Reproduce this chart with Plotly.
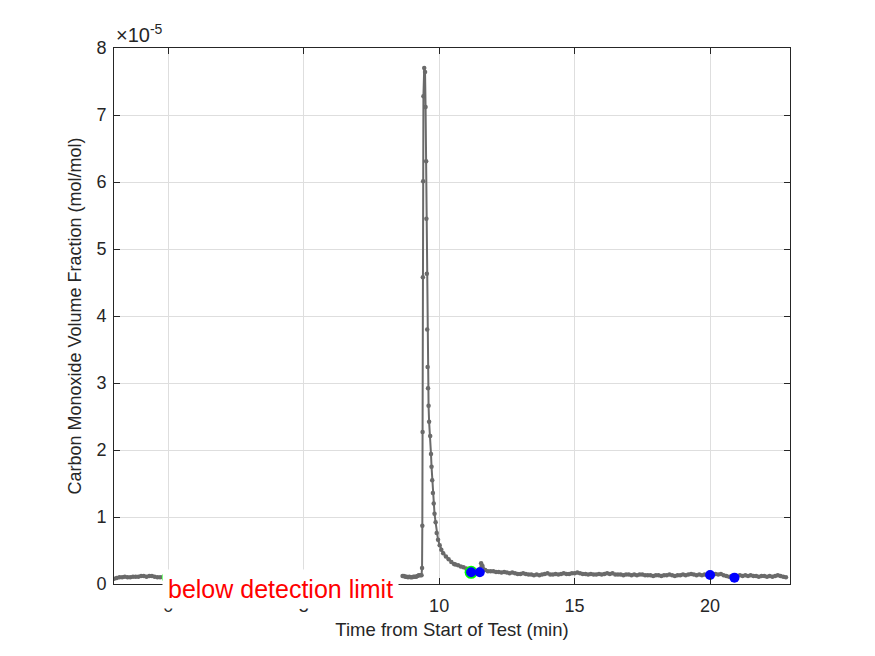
import plotly.graph_objects as go

# ---- data (CO volume fraction in units of 1e-5 mol/mol) ----
t_pre = [-2.0, -1.9, -1.8, -1.7, -1.6, -1.5, -1.4, -1.3, -1.2, -1.1, -1.0,
         -0.9, -0.8, -0.7, -0.6, -0.5, -0.4, -0.3, -0.2, -0.1, 0.0]
co_pre = [0.08, 0.09, 0.10, 0.10, 0.11, 0.10, 0.10, 0.11, 0.11, 0.11, 0.12,
          0.12, 0.11, 0.12, 0.12, 0.11, 0.10, 0.10, 0.10, 0.10, 0.10]

t_main = [8.65, 8.70, 8.75, 8.80, 8.85, 8.90, 8.95, 9.00, 9.05, 9.10, 9.15, 9.20, 9.25, 9.30, 9.35,
          9.37, 9.38, 9.39, 9.40, 9.41, 9.42, 9.45, 9.48, 9.50, 9.52, 9.53, 9.545, 9.56, 9.575,
          9.59, 9.61, 9.63, 9.67, 9.70, 9.72, 9.745, 9.77, 9.80, 9.83, 9.87, 9.91, 9.96,
          10.02, 10.08, 10.15, 10.25, 10.35, 10.45, 10.55,
          10.6, 10.7, 10.8, 10.9, 11.0, 11.1, 11.2, 11.3, 11.4, 11.5, 11.55, 11.6, 11.7, 11.8, 11.9,
          12.0, 12.1, 12.2, 12.3, 12.4, 12.5, 12.6, 12.7, 12.8, 12.9,
          13.0, 13.1, 13.2, 13.3, 13.4, 13.5, 13.6, 13.7, 13.8, 13.9,
          14.0, 14.1, 14.2, 14.3, 14.4, 14.5, 14.6, 14.7, 14.8, 14.9,
          15.0, 15.1, 15.2, 15.3, 15.4, 15.5, 15.6, 15.7, 15.8, 15.9,
          16.0, 16.1, 16.2, 16.3, 16.4, 16.5, 16.6, 16.7, 16.8, 16.9,
          17.0, 17.1, 17.2, 17.3, 17.4, 17.5, 17.6, 17.7, 17.8, 17.9,
          18.0, 18.1, 18.2, 18.3, 18.4, 18.5, 18.6, 18.7, 18.8, 18.9,
          19.0, 19.1, 19.2, 19.3, 19.4, 19.5, 19.6, 19.7, 19.8, 19.9,
          20.0, 20.1, 20.2, 20.3, 20.4, 20.5, 20.6, 20.7, 20.8, 20.9,
          21.0, 21.1, 21.2, 21.3, 21.4, 21.5, 21.6, 21.7, 21.8, 21.9,
          22.0, 22.1, 22.2, 22.3, 22.4, 22.5, 22.6, 22.7, 22.8]
co_main = [0.12, 0.12, 0.11, 0.11, 0.10, 0.11, 0.10, 0.10, 0.11, 0.11, 0.11, 0.12, 0.13, 0.13, 0.13,
           0.24, 0.87, 2.27, 4.58, 6.01, 7.28, 7.70, 7.64, 7.12, 6.31, 5.45, 4.63, 3.80, 3.24,
           2.92, 2.66, 2.42, 2.21, 1.94, 1.75, 1.55, 1.36, 1.20, 1.05, 0.92, 0.76, 0.66,
           0.58, 0.51, 0.46, 0.41, 0.37, 0.33, 0.30,
           0.29, 0.28, 0.26, 0.25, 0.23, 0.20, 0.18, 0.17, 0.18, 0.22, 0.31, 0.27, 0.21, 0.19, 0.19,
           0.19, 0.18, 0.18, 0.17, 0.18, 0.17, 0.16, 0.17, 0.16, 0.15,
           0.15, 0.16, 0.15, 0.14, 0.14, 0.13, 0.14, 0.13, 0.14, 0.15,
           0.16, 0.14, 0.14, 0.15, 0.14, 0.15, 0.16, 0.15, 0.15, 0.16,
           0.16, 0.17, 0.16, 0.15, 0.15, 0.14, 0.15, 0.14, 0.14, 0.15,
           0.14, 0.15, 0.16, 0.15, 0.16, 0.14, 0.14, 0.14, 0.13, 0.14,
           0.14, 0.13, 0.14, 0.13, 0.14, 0.14, 0.13, 0.13, 0.13, 0.12,
           0.13, 0.13, 0.12, 0.13, 0.13, 0.14, 0.13, 0.12, 0.13, 0.13,
           0.14, 0.13, 0.14, 0.15, 0.14, 0.13, 0.14, 0.13, 0.14, 0.13,
           0.13, 0.14, 0.15, 0.14, 0.15, 0.13, 0.12, 0.11, 0.12, 0.11,
           0.12, 0.13, 0.12, 0.13, 0.12, 0.13, 0.12, 0.12, 0.11, 0.12,
           0.12, 0.11, 0.12, 0.11, 0.12, 0.13, 0.12, 0.11, 0.10]

green_t = [0.0, 11.18]
green_co = [0.10, 0.175]
blue_t = [11.18, 11.5, 20.0, 20.9]
blue_co = [0.175, 0.175, 0.135, 0.095]

x_ticks = [0, 5, 10, 15, 20]
y_ticks = [0, 1, 2, 3, 4, 5, 6, 7, 8]
y_ticktext = ["0", "1", "2", "3", "4", "5", "6", "7", "8"]

GRAY = "#6a6a6a"
AX = "#262626"
FONT = "Liberation Sans, Arial, sans-serif"

fig = go.Figure()
fig.add_trace(go.Scatter(
    x=t_pre + [None] + t_main, y=co_pre + [None] + co_main,
    mode="lines+markers", connectgaps=False,
    line=dict(color=GRAY, width=2),
    marker=dict(color=GRAY, size=4.5),
    cliponaxis=True, showlegend=False, hoverinfo="x+y"))
fig.add_trace(go.Scatter(
    x=green_t, y=green_co, mode="markers",
    marker=dict(color="#00ff00", size=13), showlegend=False))
fig.add_trace(go.Scatter(
    x=blue_t, y=blue_co, mode="markers",
    marker=dict(color="#0000ff", size=10), showlegend=False))

fig.update_layout(
    width=875, height=656,
    margin=dict(l=114, r=85, t=48, b=72),
    paper_bgcolor="white", plot_bgcolor="white",
    font=dict(family=FONT, color=AX, size=18),
    xaxis=dict(
        range=[-2, 22.95], tickvals=x_ticks,
        showgrid=True, gridcolor="#dedede", gridwidth=1, zeroline=False,
        showline=True, linecolor=AX, linewidth=1, mirror="ticks",
        ticks="inside", ticklen=6, tickcolor=AX, ticklabelstandoff=5,
        tickfont=dict(size=18, color=AX),
        title=dict(text="Time from Start of Test (min)", font=dict(size=18.5, color=AX), standoff=8),
    ),
    yaxis=dict(
        range=[0, 8], tickvals=y_ticks, ticktext=y_ticktext,
        showgrid=True, gridcolor="#dedede", gridwidth=1, zeroline=False,
        showline=True, linecolor=AX, linewidth=1, mirror="ticks",
        ticks="inside", ticklen=6, tickcolor=AX, ticklabelstandoff=3,
        tickfont=dict(size=18, color=AX),
        title=dict(text="Carbon Monoxide Volume Fraction (mol/mol)", font=dict(size=18, color=AX), standoff=10),
    ),
    annotations=[
        dict(text="×10<sup>-5</sup>", xref="paper", yref="paper", x=0, y=1,
             xanchor="left", yanchor="bottom", showarrow=False,
             font=dict(size=20, color=AX, family=FONT)),
        dict(text="below detection limit", xref="x", yref="paper", x=-0.22, y=-0.009,
             xanchor="left", yanchor="middle", showarrow=False,
             bgcolor="white", borderpad=5,
             font=dict(size=25, color="#ff0000", family=FONT)),
    ],
)

fig.write_html("out.html")
